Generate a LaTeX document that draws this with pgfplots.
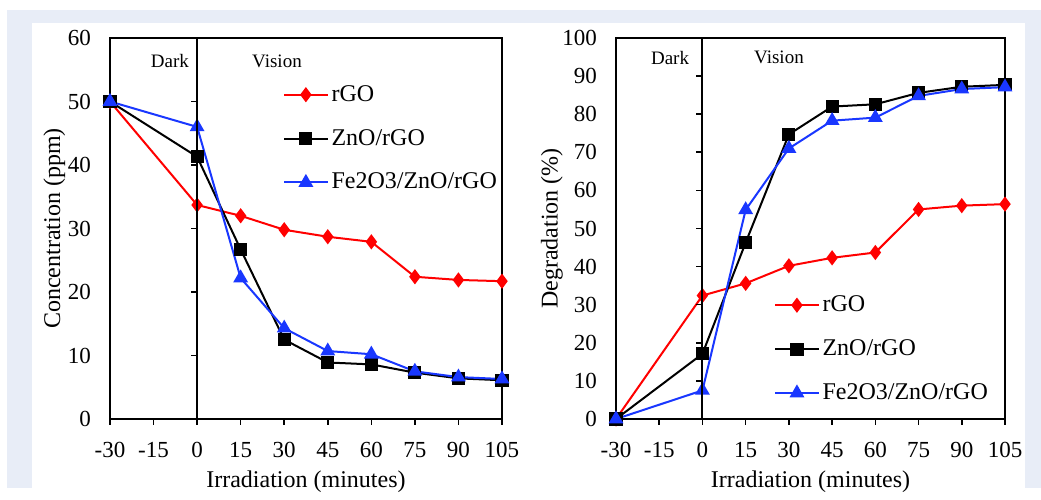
\documentclass[border=0pt]{standalone}
\usepackage{fontspec}
\setmainfont{Liberation Serif}
\usepackage{pgfplots}
\pgfplotsset{compat=1.18}
\definecolor{bgpanel}{RGB}{232,237,247}
\definecolor{xred}{RGB}{255,0,0}
\definecolor{xblue}{RGB}{25,55,255}

\pgfplotsset{
  panel/.style={
    scale only axis,
    width=#1, height=190.5pt,
    xmin=-30, xmax=105,
    xtick={-30,-15,0,15,30,45,60,75,90,105},
    axis line style={black, line width=1pt},
    tick style={black, line width=0.8pt},
    xtick align=outside, xtick pos=bottom,
    major tick length=3pt,
    ytick style={draw=none},
    ytick pos=left,
    /pgf/number format/assume math mode=true,
    tick label style={font=\fontsize{11.5}{13}\selectfont},
    yticklabel style={xshift=-6pt},
    xticklabel style={yshift=-5pt},
    label style={font=\fontsize{12}{14}\selectfont},
    xlabel style={yshift=0pt},
    legend cell align=left,
    legend style={draw=none, fill=none, font=\fontsize{12}{14}\selectfont,
      row sep=12.5pt, inner sep=0pt, nodes={inner xsep=1.5pt, inner ysep=0pt}},
    legend image code/.code={
      \draw[mark repeat=2,mark phase=2] plot coordinates {(0cm,0cm) (0.38cm,0cm) (0.76cm,0cm)};},
    clip=false,
  },
  midline/.style={
    scale only axis,
    width=#1, height=190.5pt,
    xmin=-30, xmax=105,
    axis x line=none,
    axis y line=middle,
    y axis line style={-, black, line width=1pt},
    ytick align=outside,
    major tick length=3pt,
    ytick style={black, line width=0.8pt},
    yticklabels={},
  },
  sred/.style={xred, line width=1pt, mark=diamond*, mark size=3pt, mark options={fill=xred, draw=xred}},
  sblack/.style={black, line width=1pt, mark=square*, mark size=2.8pt, mark options={fill=black, draw=black}},
  sblue/.style={xblue, line width=1pt, mark=triangle*, mark size=3.3pt, mark options={fill=xblue, draw=xblue}},
}

\begin{document}
\begin{tikzpicture}
\fill[white] (0pt,0pt) rectangle (520.5pt,244pt);
\fill[bgpanel] (3.5pt,0pt) rectangle (520.5pt,239pt);
\fill[white] (16pt,0pt) rectangle (512.5pt,232.5pt);

% left panel
\begin{axis}[panel=196pt, at={(55pt,34.5pt)}, anchor=south west,
  ymin=0, ymax=60, ytick={0,10,...,60},
  xlabel={Irradiation (minutes)}, ylabel={Concentration (ppm)},
  ylabel style={yshift=-5.5pt},
  legend style={at={(0.441,0.877)}, anchor=north west}]
\addplot[sred] coordinates {(-30,50) (0,33.7) (15,32.0) (30,29.8) (45,28.7) (60,27.9) (75,22.4) (90,21.9) (105,21.7)};
\addplot[sblack] coordinates {(-30,50) (0,41.3) (15,26.7) (30,12.5) (45,8.9) (60,8.6) (75,7.3) (90,6.4) (105,6.1)};
\addplot[sblue] coordinates {(-30,50) (0,46.0) (15,22.2) (30,14.3) (45,10.7) (60,10.2) (75,7.5) (90,6.6) (105,6.3)};
\legend{rGO, ZnO/rGO, Fe2O3/ZnO/rGO}
\node[font=\fontsize{9.5}{11}\selectfont] at (rel axis cs:0.153,0.94) {Dark};
\node[font=\fontsize{9.5}{11}\selectfont] at (rel axis cs:0.426,0.94) {Vision};
\end{axis}
\begin{axis}[midline=196pt, at={(55pt,34.5pt)}, anchor=south west,
  ymin=0, ymax=60, ytick={10,20,...,50}]
\addplot[draw=none] coordinates {(0,0)};
\end{axis}

% right panel
\begin{axis}[panel=194.5pt, at={(308pt,34.5pt)}, anchor=south west,
  ymin=0, ymax=100, ytick={0,10,...,100},
  xlabel={Irradiation (minutes)}, ylabel={Degradation (\%)},
  ylabel style={yshift=-7pt},
  legend style={at={(0.406,0.3245)}, anchor=north west}]
\addplot[sred] coordinates {(-30,0) (0,32.4) (15,35.6) (30,40.2) (45,42.3) (60,43.7) (75,55.0) (90,56.0) (105,56.4)};
\addplot[sblack] coordinates {(-30,0) (0,17.1) (15,46.3) (30,74.7) (45,82.0) (60,82.6) (75,85.6) (90,87.2) (105,87.7)};
\addplot[sblue] coordinates {(-30,0) (0,7.5) (15,54.9) (30,71.0) (45,78.3) (60,79.1) (75,84.8) (90,86.6) (105,87.1)};
\legend{rGO, ZnO/rGO, Fe2O3/ZnO/rGO}
\node[font=\fontsize{9.5}{11}\selectfont] at (rel axis cs:0.139,0.948) {Dark};
\node[font=\fontsize{9.5}{11}\selectfont] at (rel axis cs:0.419,0.948) {Vision};
\end{axis}
\begin{axis}[midline=194.5pt, at={(308pt,34.5pt)}, anchor=south west,
  ymin=0, ymax=100, ytick={10,20,...,90}]
\addplot[draw=none] coordinates {(0,0)};
\end{axis}
\end{tikzpicture}
\end{document}
